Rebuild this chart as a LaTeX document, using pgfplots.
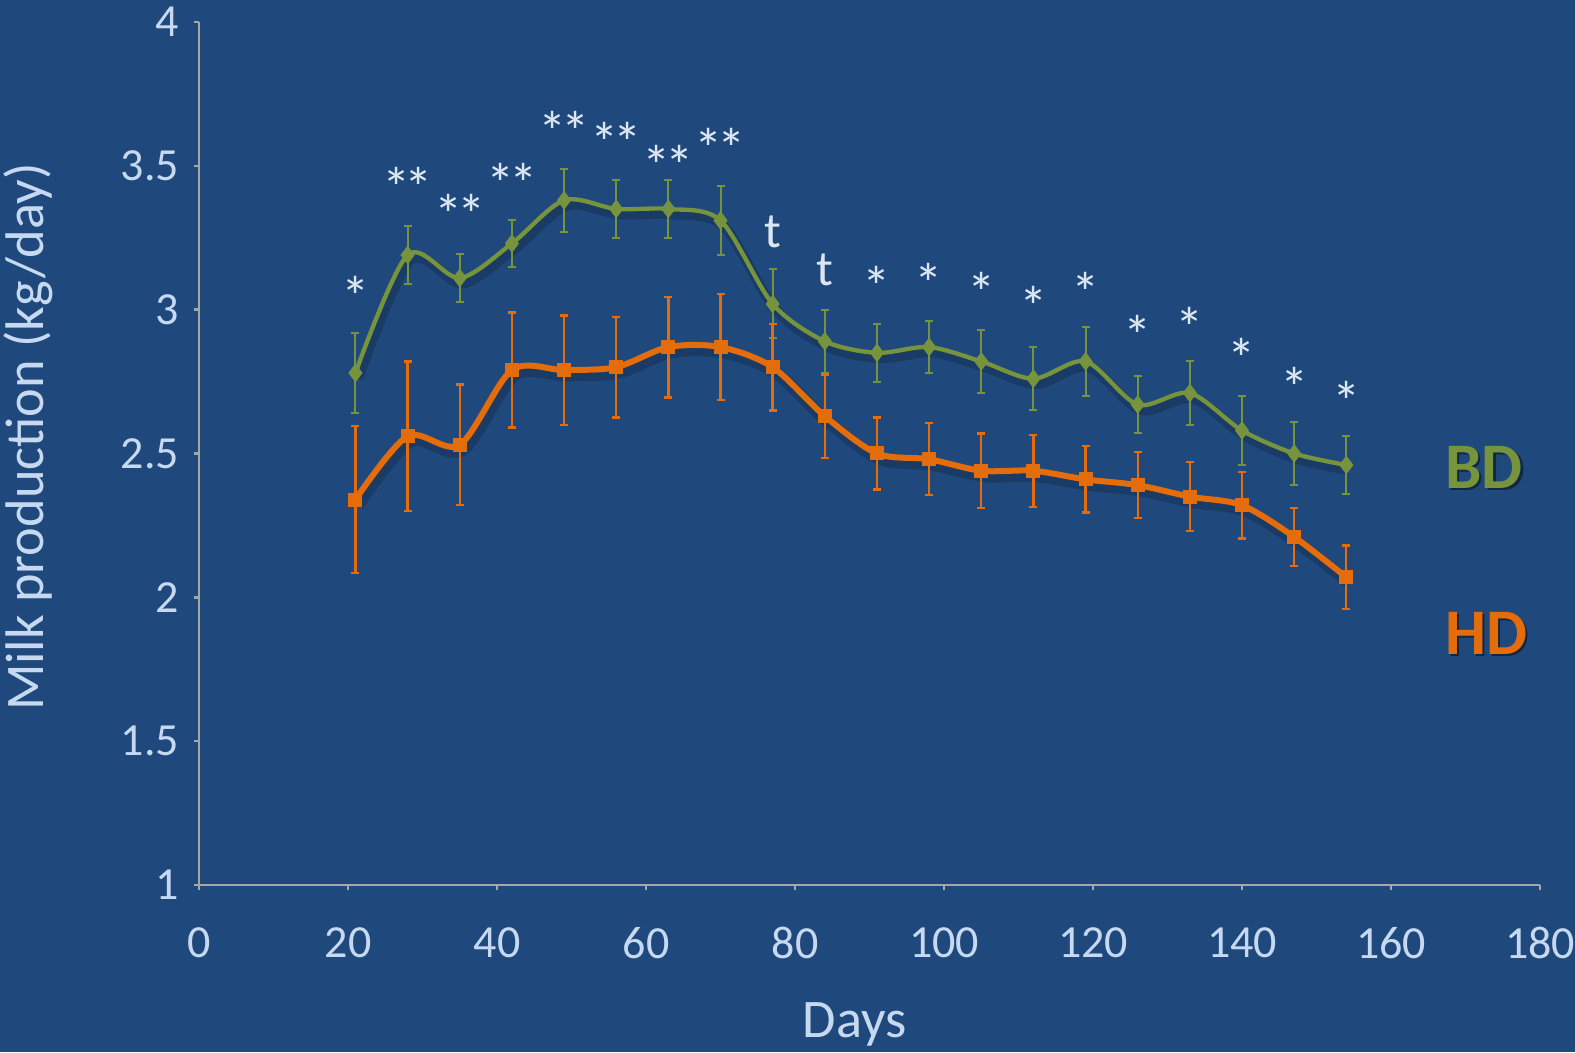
\documentclass[border=0pt]{standalone}
\usepackage{fontspec}
\setmainfont{Carlito}
\usepackage{pgfplots}
\usepackage{pgfplotstable}
\pgfplotsset{compat=1.18}
\definecolor{bg}{HTML}{1F497D}
\definecolor{bdg}{HTML}{77933C}
\definecolor{hdo}{HTML}{E46C0A}
\definecolor{axg}{HTML}{A6A6A6}
\definecolor{lbl}{HTML}{C6D9F1}
\definecolor{star}{HTML}{DCE6F2}

\pgfplotstableread{
x y e
21 2.78 0.14
28 3.19 0.10
35 3.11 0.083
42 3.23 0.08
49 3.38 0.11
56 3.35 0.10
63 3.35 0.10
70 3.31 0.12
77 3.02 0.12
84 2.89 0.11
91 2.85 0.10
98 2.87 0.09
105 2.82 0.11
112 2.76 0.11
119 2.82 0.12
126 2.67 0.10
133 2.71 0.11
140 2.58 0.12
147 2.50 0.11
154 2.46 0.10
}\bd

\pgfplotstableread{
x y e
21 2.34 0.255
28 2.56 0.26
35 2.53 0.21
42 2.79 0.20
49 2.79 0.19
56 2.80 0.175
63 2.87 0.175
70 2.87 0.185
77 2.80 0.15
84 2.63 0.145
91 2.50 0.125
98 2.48 0.125
105 2.44 0.13
112 2.44 0.125
119 2.41 0.115
126 2.39 0.115
133 2.35 0.12
140 2.32 0.115
147 2.21 0.10
154 2.07 0.11
}\hd

\newcommand{\dstar}{*\kern-1.6pt*}

\begin{document}
\begin{tikzpicture}[x=1pt,y=1pt]
\path[use as bounding box] (-59.7,-50.1) rectangle (412.8,265.5);
\clip (-59.7,-50.1) rectangle (412.8,265.5);
\fill[bg] (-59.7,-50.1) rectangle (412.8,265.5);
\begin{axis}[
  at={(0,0)}, anchor=south west,
  scale only axis, width=402.3pt, height=258.9pt,
  xmin=0, xmax=180, ymin=1, ymax=4,
  axis lines=left,
  axis line style={-, draw=axg, line width=0.7pt},
  tick style={draw=axg, line width=0.7pt},
  tick align=outside,
  major tick length=1.6pt,
  xtick={0,20,...,180},
  ytick={1,1.5,2,2.5,3,3.5,4},
  /pgf/number format/assume math mode=true,
  tick label style={font=\fontsize{13.8}{16}\selectfont, text=lbl},
  xticklabel style={yshift=-7.6pt},
  yticklabel style={xshift=-0.8pt},
  xlabel={Days},
  xlabel style={at={(axis description cs:0.489,-0.162)}, anchor=center, font=\fontsize{16.3}{19}\selectfont, text=lbl},
  ylabel={Milk production (kg/day)},
  ylabel style={at={(axis description cs:-0.1275,0.519)}, anchor=center, font=\fontsize{16.3}{19}\selectfont, text=lbl},
  clip=false,
]
% soft shadows
\addplot[black, opacity=0.18, line width=3pt, smooth, tension=0.5, no marks, xshift=0.8pt, yshift=-1.6pt]
  table[x=x, y=y] {\bd};
\addplot[black, opacity=0.18, line width=3.6pt, smooth, tension=0.5, no marks, xshift=0.8pt, yshift=-1.6pt]
  table[x=x, y=y] {\hd};

\addplot[bdg, line width=1.3pt, smooth, tension=0.5,
  mark=diamond*, mark size=2.5pt, mark options={solid, fill=bdg, line width=0.4pt},
  error bars/.cd, y dir=both, y explicit,
  error bar style={line width=0.6pt, bdg},
  error mark options={rotate=90, mark size=1.2pt, line width=0.6pt, bdg}]
  table[x=x, y=y, y error=e] {\bd};
\addplot[hdo, line width=1.8pt, smooth, tension=0.5,
  mark=square*, mark size=1.9pt, mark options={solid, fill=hdo, line width=0.4pt},
  error bars/.cd, y dir=both, y explicit,
  error bar style={line width=0.7pt, hdo},
  error mark options={rotate=90, mark size=1.2pt, line width=0.7pt, hdo}]
  table[x=x, y=y, y error=e] {\hd};

\tikzset{st/.style={anchor=base, text=star, font=\fontsize{17}{19}\selectfont, inner sep=0pt}}
\node[st] at (axis cs:21,2.975) {*};
\node[st] at (axis cs:28,3.354) {\dstar};
\node[st] at (axis cs:35,3.26) {\dstar};
\node[st] at (axis cs:42,3.37) {\dstar};
\node[st] at (axis cs:49,3.55) {\dstar};
\node[st] at (axis cs:56,3.51) {\dstar};
\node[st] at (axis cs:63,3.43) {\dstar};
\node[st] at (axis cs:70,3.49) {\dstar};
\node[st, font=\fontsize{15}{17}\selectfont] at (axis cs:77,3.215) {t};
\node[st, font=\fontsize{15}{17}\selectfont] at (axis cs:84,3.085) {t};
\node[st] at (axis cs:91,3.01) {*};
\node[st] at (axis cs:98,3.02) {*};
\node[st] at (axis cs:105,2.99) {*};
\node[st] at (axis cs:112,2.94) {*};
\node[st] at (axis cs:119,2.99) {*};
\node[st] at (axis cs:126,2.84) {*};
\node[st] at (axis cs:133,2.87) {*};
\node[st] at (axis cs:140,2.76) {*};
\node[st] at (axis cs:147,2.66) {*};
\node[st] at (axis cs:154,2.61) {*};

\node[font=\bfseries\fontsize{19.5}{22}\selectfont, text=black, opacity=0.45] at ([shift={(0.7pt,-0.7pt)}]axis cs:172.5,2.453) {BD};
\node[font=\bfseries\fontsize{19.5}{22}\selectfont, text=bdg] at (axis cs:172.5,2.453) {BD};
\node[font=\bfseries\fontsize{19.5}{22}\selectfont, text=black, opacity=0.45] at ([shift={(0.7pt,-0.7pt)}]axis cs:172.8,1.876) {HD};
\node[font=\bfseries\fontsize{19.5}{22}\selectfont, text=hdo] at (axis cs:172.8,1.876) {HD};
\end{axis}
\end{tikzpicture}
\end{document}
